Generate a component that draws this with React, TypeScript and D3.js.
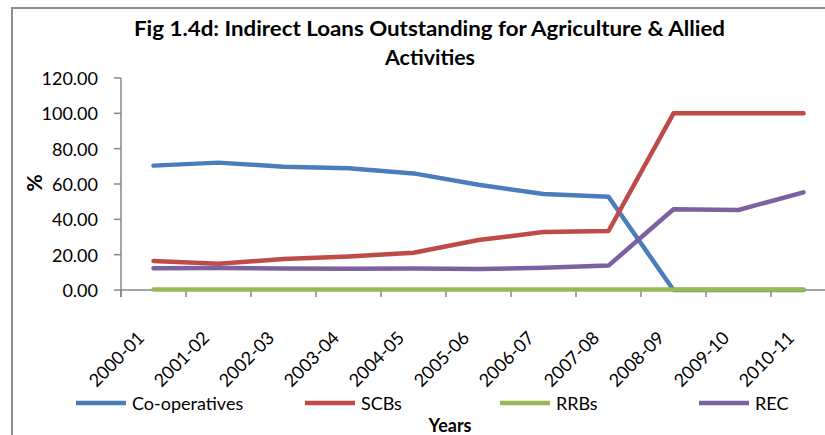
import React from "react";
import * as d3 from "d3";

const categories = ["2000-01","2001-02","2002-03","2003-04","2004-05","2005-06","2006-07","2007-08","2008-09","2009-10","2010-11"];
const cooperatives = [70.4, 72.1, 69.8, 68.9, 66.0, 59.6, 54.3, 52.8, 0, 0, 0];
const scbs = [16.4, 14.8, 17.5, 18.9, 21.1, 28.3, 32.8, 33.4, 100, 100, 100];
const rrbs = [0.3, 0.3, 0.3, 0.3, 0.3, 0.3, 0.3, 0.3, 0.3, 0.3, 0.3];
const rec = [12.3, 12.5, 12.1, 12.0, 12.2, 11.9, 12.6, 13.8, 45.7, 45.3, 55.3];
const yTicks = [0, 20, 40, 60, 80, 100, 120];
const seriesNames = ["Co-operatives", "SCBs", "RRBs", "REC"];
const seriesValues = [cooperatives, scbs, rrbs, rec];
const colors = ["#4A7EBB", "#BE4B48", "#98B954", "#7D60A0"];

const FONT = "Lato, 'Open Sans', sans-serif";

export default function App() {
  const x = d3.scaleBand<string>().domain(categories).range([121, 836]).paddingInner(0).paddingOuter(0);
  const y = d3.scaleLinear().domain([0, 120]).range([290, 78]);
  const cx = (c: string) => (x(c) as number) + x.bandwidth() / 2;
  const line = d3.line<number>().x((_, i) => cx(categories[i])).y((d) => y(d));
  const boundaries = categories.map((c) => x(c) as number).concat([836]);
  const legendX = [76, 305, 500, 699];

  return (
    <svg width={825} height={435} style={{ position: "absolute", left: 0, top: 0, background: "#fff" }} fontFamily={FONT}>
      <rect x={0} y={0} width={825} height={435} fill="#fff" />
      <rect x={12} y={8} width={830} height={440} fill="none" stroke="#8c8c8c" strokeWidth={2} />
      <text x={429.5} y={27} textAnchor="middle" dominantBaseline="central" fontWeight="bold" fontSize={21} textLength={591} lengthAdjust="spacingAndGlyphs">Fig 1.4d: Indirect Loans Outstanding for Agriculture &amp; Allied</text>
      <text x={430} y={56} textAnchor="middle" dominantBaseline="central" fontWeight="bold" fontSize={21} textLength={90} lengthAdjust="spacingAndGlyphs">Activities</text>

      {/* y axis */}
      <line x1={121} x2={121} y1={y(120)} y2={297} stroke="#868686" strokeWidth={1.5} />
      {yTicks.map((t) => (
        <g key={t}>
          <line x1={114} x2={121} y1={y(t)} y2={y(t)} stroke="#868686" strokeWidth={1.5} />
          <text x={98} y={y(t)} textAnchor="end" dominantBaseline="central" fontSize={18}>{t.toFixed(2)}</text>
        </g>
      ))}
      <text transform="translate(33,183) rotate(-90)" textAnchor="middle" dominantBaseline="central" fontWeight="bold" fontSize={21}>%</text>

      {/* x axis */}
      <line x1={121} x2={836} y1={290} y2={290} stroke="#868686" strokeWidth={1.5} />
      {boundaries.map((b, i) => (
        <line key={i} x1={b} x2={b} y1={290} y2={297} stroke="#868686" strokeWidth={1.5} />
      ))}
      {categories.map((c) => (
        <text key={c} transform={`translate(${cx(c) - 8},339) rotate(-45)`} textAnchor="end" fontSize={18}>{c}</text>
      ))}

      {/* lines */}
      {seriesValues.map((vals, i) => (
        <path key={i} d={line(vals) as string} fill="none" stroke={colors[i]} strokeWidth={4.5} strokeLinecap="round" strokeLinejoin="round" />
      ))}

      {/* legend */}
      {seriesNames.map((n, i) => (
        <g key={n}>
          <line x1={legendX[i]} x2={legendX[i] + 50} y1={403} y2={403} stroke={colors[i]} strokeWidth={4.5} />
          <text x={legendX[i] + 56} y={403} dominantBaseline="central" fontSize={18}>{n}</text>
        </g>
      ))}
      <text x={450} y={425} textAnchor="middle" dominantBaseline="central" fontWeight="bold" fontSize={18}>Years</text>
    </svg>
  );
}
